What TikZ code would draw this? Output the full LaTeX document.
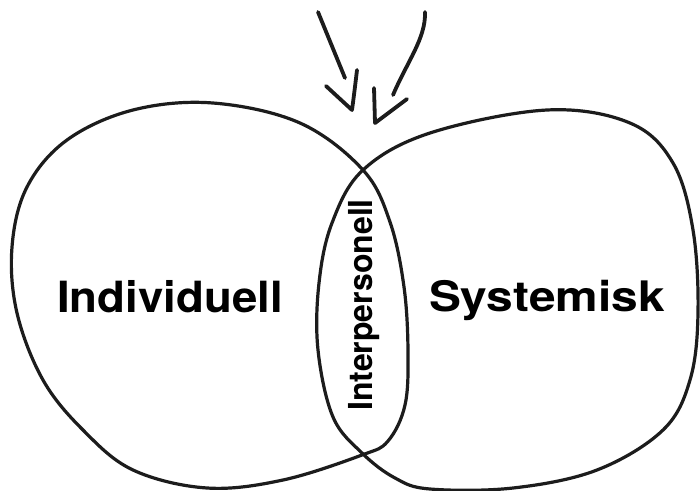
\documentclass[tikz,border=0pt]{standalone}
\usepackage{fontspec}
\newfontfamily\labfont{TeX Gyre Heros}
\definecolor{ink}{HTML}{1C1C1C}
\begin{document}
\begin{tikzpicture}[x=1pt, y=-1pt, line join=round, line cap=round,
  outline/.style={draw=ink, line width=3.2pt},
  pointer/.style={draw=ink, line width=3.8pt},
  lab/.style={inner sep=0pt, anchor=base, text=black}]
\useasboundingbox[fill=white] (0,0) rectangle (700,490);

% left region
\draw[outline] plot[smooth cycle, tension=0.6] coordinates {
  (213,103) (300,123) (363,170) (390,222) (404,287) (408,352) (405,405)
  (388,441) (362,455) (283,480) (207,488) (133,470) (83,430) (43,380)
  (17,313) (12,247) (27,187) (67,140) (133,110)};

% right region
\draw[outline] plot[smooth cycle, tension=0.6] coordinates {
  (547,110) (630,123) (673,163) (693,230) (698,313) (690,380) (663,430)
  (597,470) (513,488) (430,489) (395,478) (362,453) (333,417) (318,350)
  (319,283) (332,223) (363,170) (430,133)};

% labels
\node[lab] (ind) at (170,312)
  {\scalebox{1.06}[1]{\fontsize{43}{43}\labfont\bfseries Individuell}};
\node[lab] (sys) at (547,311)
  {\scalebox{1.14}[1]{\fontsize{42}{42}\labfont\bfseries Systemisk}};
\node[lab, rotate=90] (inter) at (372,305)
  {\scalebox{0.97}[1]{\fontsize{33}{33}\labfont\bfseries Interpersonell}};

% two pointers aiming at the overlap
\coordinate (ltail) at (318,12);
\coordinate (lend) at (345,78);
\coordinate (ltip) at (352,110);
\draw[pointer] (ltail) -- (lend);
\draw[pointer] (326,86) -- (ltip) .. controls (354,95) .. (357,70);

\coordinate (rtail) at (425,12);
\coordinate (rend) at (393,95);
\coordinate (rtip) at (375,123);
\draw[pointer] (rtail) .. controls (426,38) and (407,62) .. (rend);
\draw[pointer] (374,88) -- (rtip) -- (407,99);
\end{tikzpicture}
\end{document}
